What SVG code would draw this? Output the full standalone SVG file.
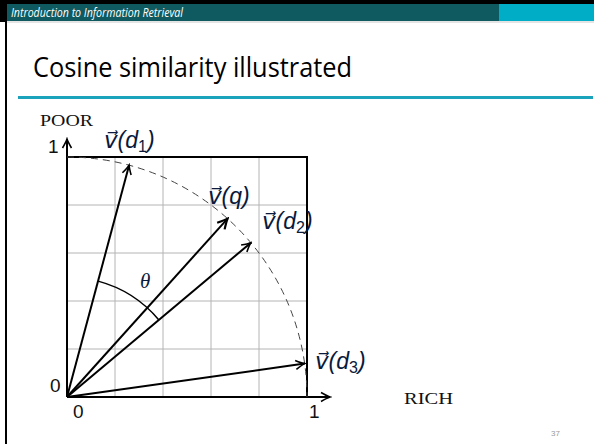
<svg xmlns="http://www.w3.org/2000/svg" width="594" height="444" viewBox="0 0 594 444">
<defs>
<style>
.grid{stroke:#b4b4b4;stroke-width:1;fill:none}
.axis{stroke:#000;stroke-width:2;fill:none}
.vec{stroke:#000;stroke-width:2;fill:none}
.math{font-family:"Liberation Sans","DejaVu Sans",sans-serif;font-style:italic;font-size:23px;fill:#0a1a3c}
.sub{font-style:normal;font-size:16px}
.num{font-family:"Liberation Sans","DejaVu Sans",sans-serif;font-size:19px;fill:#111}
.cap{font-family:"Liberation Serif","DejaVu Serif",serif;fill:#111}
</style>
<marker id="ah" viewBox="-10 -6 12 12" markerWidth="12" markerHeight="12" refX="0" refY="0" orient="auto" markerUnits="userSpaceOnUse">
<path d="M-9,-4.5 Q-3,-1 0,0 Q-3,1 -9,4.5" fill="none" stroke="#000" stroke-width="1.6"/>
</marker>
<marker id="ahb" viewBox="-12 -7 14 14" markerWidth="14" markerHeight="14" refX="0" refY="0" orient="auto" markerUnits="userSpaceOnUse">
<path d="M-10,-5 Q-3,-1 0,0 Q-3,1 -10,5" fill="none" stroke="#000" stroke-width="2.2"/>
</marker>
</defs>
<rect width="594" height="444" fill="#fff"/>
<g id="header">
<rect x="0" y="0" width="594" height="4" fill="#000"/>
<rect x="0" y="4" width="7" height="18" fill="#000"/>
<rect x="7" y="4" width="492" height="17" fill="#0e5a60"/>
<rect x="499" y="4" width="95" height="17" fill="#00adc6"/>
<rect x="7" y="21" width="587" height="2" fill="#e4e4e4"/>
<rect x="5" y="22" width="2" height="422" fill="#000"/>
<text x="11" y="16.5" font-family="'Open Sans','Liberation Sans',sans-serif" font-style="italic" font-size="12" fill="#fff" textLength="172" lengthAdjust="spacingAndGlyphs">Introduction to Information Retrieval</text>
</g>
<g id="title">
<text x="33" y="77" font-family="'Open Sans','Liberation Sans',sans-serif" font-size="27" fill="#000" textLength="319" lengthAdjust="spacingAndGlyphs">Cosine similarity illustrated</text>
<rect x="18" y="96" width="575" height="3" fill="#1aa3bb"/>
</g>
<g id="grid">
<path class="grid" d="M115,157V397M163,157V397M211,157V397M259,157V397M67,349H307M67,301H307M67,253H307M67,205H307"/>
</g>
<g id="frame">
<path class="axis" d="M67,157H307V397"/>
<path class="axis" d="M67,397V139" marker-end="url(#ah)"/>
<path class="axis" d="M67,397H330" marker-end="url(#ah)"/>
</g>
<g id="unit-arc">
<path d="M67,157A240,240 0 0 1 307,397" fill="none" stroke="#444" stroke-width="1" stroke-dasharray="7,5"/>
</g>
<g id="connectors">
<path class="vec" d="M67,397L129.1,165.2" marker-end="url(#ah)"/>
<path class="vec" d="M67,397L227.6,218.6" stroke-width="3.2" marker-end="url(#ahb)"/>
<path class="vec" d="M67,397L250.9,242.7" stroke-width="1.8" marker-end="url(#ah)"/>
<path class="vec" d="M67,397L304.7,363.6" marker-end="url(#ah)"/>
<path d="M98.1,281.1A120,120 0 0 1 158.9,319.9" fill="none" stroke="#000" stroke-width="1.5"/>
</g>
<g id="labels">
<text class="math" x="104" y="148">v⃗(d<tspan class="sub" dy="4">1</tspan><tspan dy="-4">)</tspan></text>
<text class="math" x="208" y="204">v⃗(q)</text>
<text class="math" x="262" y="229">v⃗(d<tspan class="sub" dy="4">2</tspan><tspan dy="-4">)</tspan></text>
<text class="math" x="315" y="369">v⃗(d<tspan class="sub" dy="4">3</tspan><tspan dy="-4">)</tspan></text>
<text x="140" y="288" font-family="'Liberation Serif','DejaVu Serif',serif" font-style="italic" font-size="21" fill="#0a1a3c">θ</text>
<text class="cap" x="40" y="126" font-size="16" textLength="53" lengthAdjust="spacingAndGlyphs">POOR</text>
<text class="cap" x="404" y="404" font-size="17" textLength="49" lengthAdjust="spacingAndGlyphs">RICH</text>
<text class="num" x="48" y="153" font-size="18">1</text>
<text class="num" x="50" y="392">0</text>
<text class="num" x="73" y="418">0</text>
<text class="num" x="309" y="418">1</text>
<text x="551" y="436" font-family="'Liberation Sans',sans-serif" font-size="8" fill="#999">37</text>
</g>
</svg>
